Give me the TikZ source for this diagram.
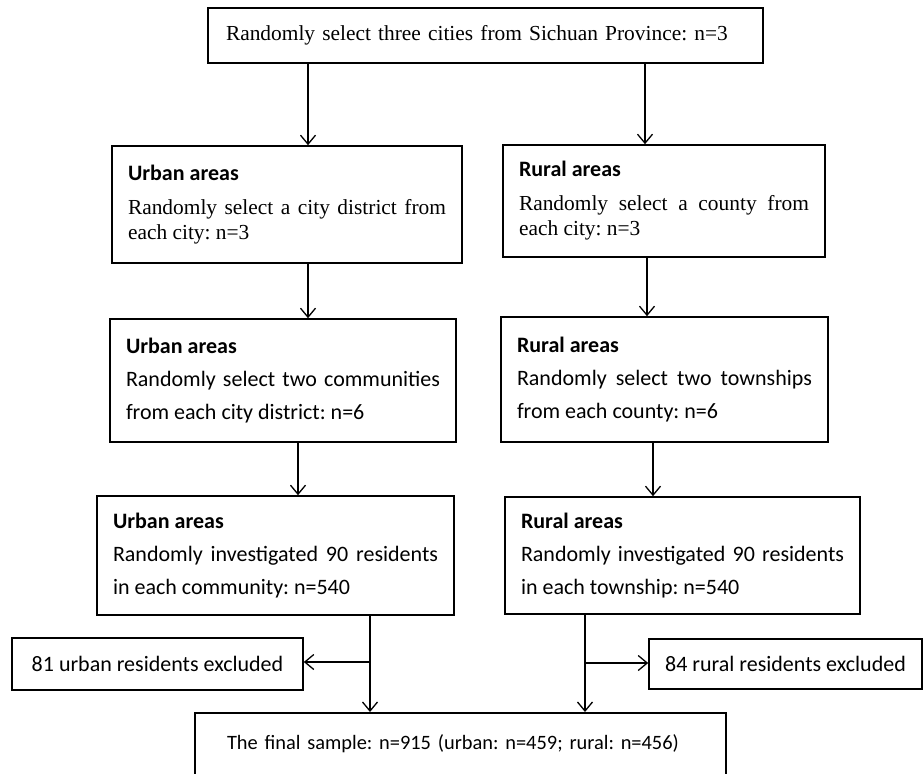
\documentclass[tikz,border=0pt]{standalone}
\usepackage{fontspec}
\setmainfont{Liberation Serif}
\newfontfamily\calib{Carlito}
\usetikzlibrary{arrows.meta}
\setlength\parindent{0pt}
\frenchspacing
\newcommand\hd{\calib\fontsize{22}{25}\selectfont\bfseries}
\tikzset{
  box/.style={draw, line width=1.6pt, inner xsep=16pt, inner ysep=0pt, align=justify},
  tfont/.style={font=\frenchspacing\fontsize{21.4}{25}\selectfont},
  cfont/.style={font=\frenchspacing\calib\fontsize{22}{33}\selectfont},
  ffont/.style={font=\frenchspacing\calib\fontsize{20.4}{24}\selectfont},
  arr/.style={line width=1.3pt, -{Straight Barb[length=9pt,width=15pt,line width=1.3pt]}},
}
\begin{document}
\begin{tikzpicture}[x=1pt,y=-1pt]
\useasboundingbox (0,0) rectangle (924,774);
\clip (0,0) rectangle (924,774);

\node[box,tfont,align=left,inner xsep=18pt,text width=519pt,minimum height=55pt] (top) at (485.5,35.5)
  {Randomly select three cities from Sichuan Province: n=3};

\node[box,tfont,text width=318pt,minimum height=117pt] (u1) at (287,204.5)
  {{\hd Urban areas}\\[9pt]Randomly select a city district from\linebreak each city: n=3};
\node[box,tfont,text width=290pt,minimum height=112pt] (r1) at (664,201)
  {{\hd Rural areas}\\[9pt]Randomly select a county from\linebreak each city: n=3};

\node[box,cfont,text width=314pt,minimum height=123pt] (u2) at (283,380.5)
  {{\bfseries Urban areas}\\Randomly select two communities\linebreak from each city district: n=6};
\node[box,cfont,text width=295pt,minimum height=125pt] (r2) at (664.5,379.5)
  {{\bfseries Rural areas}\\Randomly select two townships\linebreak from each county: n=6};

\node[box,cfont,text width=325pt,minimum height=119pt] (u3) at (275.5,555.5)
  {{\bfseries Urban areas}\\Randomly investigated 90 residents\linebreak in each community: n=540};
\node[box,cfont,text width=323pt,minimum height=117pt] (r3) at (682.5,555.5)
  {{\bfseries Rural areas}\\Randomly investigated 90 residents\linebreak in each township: n=540};

\node[box,cfont,align=center,inner xsep=0pt,minimum width=291pt,minimum height=52pt] (ue) at (157.5,664)
  {81 urban residents excluded};
\node[box,cfont,align=center,inner xsep=0pt,minimum width=273pt,minimum height=50pt] (re) at (785.5,664)
  {84 rural residents excluded};

\node[box,ffont,align=left,inner xsep=16pt,text width=499pt,text height=37pt,text depth=45pt,anchor=north] (final) at (460.5,712)
  {\hspace*{16pt}\mbox{The final sample: n=915 (urban: n=459; rural: n=456)}};

\coordinate (xa) at (308,0);
\coordinate (xb) at (645,0);
\coordinate (xc) at (308,0);
\coordinate (xd) at (647,0);
\coordinate (xe) at (298,0);
\coordinate (xf) at (653,0);
\coordinate (bu) at (370,662);
\coordinate (br) at (585,663);

\draw[arr] (top.south -| xa) -- (u1.north -| xa);
\draw[arr] (top.south -| xb) -- (r1.north -| xb);
\draw[arr] (u1.south -| xc) -- (u2.north -| xc);
\draw[arr] (r1.south -| xd) -- (r2.north -| xd);
\draw[arr] (u2.south -| xe) -- (u3.north -| xe);
\draw[arr] (r2.south -| xf) -- (r3.north -| xf);
\draw[arr] (u3.south -| bu) -- (final.north -| bu);
\draw[arr] (r3.south -| br) -- (final.north -| br);
\draw[arr] (bu) -- (ue.east |- bu);
\draw[arr] (br) -- (re.west |- br);
\end{tikzpicture}
\end{document}
